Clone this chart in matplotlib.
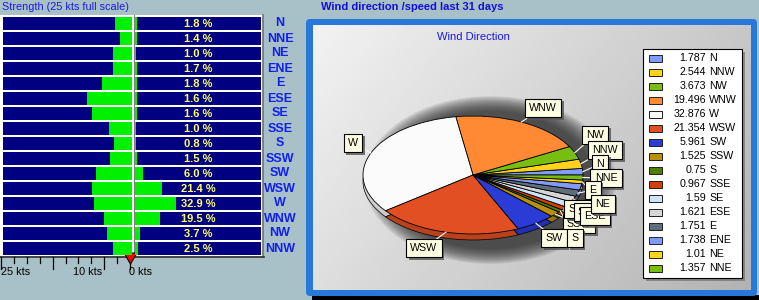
import numpy as np
import matplotlib
matplotlib.use("Agg")
import matplotlib.pyplot as plt
from matplotlib.patches import Rectangle, Polygon, Ellipse, FancyBboxPatch
import matplotlib.colors as mcolors

plt.rcParams['font.family'] = ['Liberation Sans', 'DejaVu Sans']

# ---------------- data ----------------
directions = ['N', 'NNE', 'NE', 'ENE', 'E', 'ESE', 'SE', 'SSE',
              'S', 'SSW', 'SW', 'WSW', 'W', 'WNW', 'NW', 'NNW']
frequency_pct = [1.787, 1.357, 1.01, 1.738, 1.751, 1.621, 1.59, 0.967,
                 0.75, 1.525, 5.961, 21.354, 32.876, 19.496, 3.673, 2.544]
mean_speed_kts = [2.9, 1.9, 3.3, 3.3, 5.4, 8.3, 7.4, 4.1,
                  3.1, 3.9, 6.6, 7.4, 7.0, 5.0, 4.5, 3.3]
full_scale_kts = 25
scale_labels = ['25 kts', '10 kts', '0 kts']

# pie / legend order (counter-clockwise from N)
pie_order = [directions[0]] + directions[1:][::-1]
pie_values = [frequency_pct[directions.index(d)] for d in pie_order]

# ---------------- style ----------------
slice_colors = {
    'N': '#7F9CFF', 'NNW': '#FFD21E', 'NW': '#77BE10', 'WNW': '#FF8A33',
    'W': '#FBFBFB', 'WSW': '#E24F22', 'SW': '#2A3BD6', 'SSW': '#B8900A',
    'S': '#4E7E00', 'SSE': '#D44000', 'SE': '#CFE3F8', 'ESE': '#D6D6D6',
    'E': '#5F6E78', 'ENE': '#809AFF', 'NE': '#FFD21E', 'NNE': '#77BE10'}
BG = '#A8C0C7'
NAVY = '#000080'
GREEN = '#00F000'
BLUE_TXT = '#1020F0'
FRAME = '#2878DA'

# label box centres (pixels) and drawing order
label_pos = {
    'W': (353, 143), 'WNW': (543, 108), 'NW': (595, 135), 'NNW': (605, 150),
    'N': (600, 164), 'NNE': (606, 178), 'E': (593, 190), 'SSW': (579, 224),
    'SSE': (579, 209), 'SE': (585, 212), 'ESE': (595, 216), 'NE': (603, 204),
    'SW': (554, 238), 'S': (575, 238), 'WSW': (424, 248)}
label_order = ['W', 'WNW', 'NW', 'NNW', 'N', 'NNE', 'E', 'SSW', 'SSE', 'SE',
               'ESE', 'NE', 'SW', 'S', 'WSW']

W, H = 759, 300
fig = plt.figure(figsize=(W / 100, H / 100), dpi=100, facecolor=BG)


def px_axes(x0, y0, x1, y1, z):
    ax = fig.add_axes([x0 / W, 1 - y1 / H, (x1 - x0) / W, (y1 - y0) / H])
    ax.set_zorder(z)
    ax.patch.set_visible(False)
    ax.set_axis_off()
    return ax


def rect(ax, x0, y0, x1, y1, **kw):
    ax.add_patch(Rectangle((x0, y0), x1 - x0, y1 - y0, **kw))


# background overlay (pixel coordinates)
ax_bg = px_axes(0, 0, W, H, 0)
ax_bg.set_xlim(0, W)
ax_bg.set_ylim(H, 0)

# left panel frame
rect(ax_bg, 0, 15, 263, 256, facecolor='white', edgecolor='none')
ax_bg.plot([133.5, 133.5], [15, 256], color='#808080', lw=0.8)
ax_bg.plot([263, 263], [15, 257], color='#707070', lw=1.2)
ax_bg.plot([0, 264], [256.5, 256.5], color='#303030', lw=1.2)
ax_bg.text(2, 7.5, 'Strength (25 kts full scale)', color='#1A1AE6',
           fontsize=7.8, va='center', ha='left')

# scale under the left bars
px_per_kt = 129 / full_scale_kts
for k in np.arange(0, full_scale_kts + 0.1, 2.5):
    x = 130 - k * px_per_kt
    major = k in (0, 5, 15, 25)
    ax_bg.plot([x, x], [257, 269 if major else 263], color='black', lw=0.9)
for lab, x in zip(scale_labels, [1, 73, 129]):
    ax_bg.text(x, 272, lab, fontsize=7.8, ha='left', va='center', color='black')
ax_bg.add_patch(Polygon([[124, 253], [137, 253], [130.5, 264]], closed=True,
                        facecolor='#FF0000', edgecolor='black', lw=0.8, zorder=5))

# right panel frame
ax_bg.text(321, 7.5, 'Wind direction /speed last 31 days', color='#1010D8',
           fontsize=8, fontweight='bold', va='center', ha='left')
rect(ax_bg, 312, 295, 759, 300, facecolor='black', edgecolor='none')
ax_bg.add_patch(FancyBboxPatch((306, 19), 451, 277,
                               boxstyle='round,pad=0,rounding_size=4',
                               facecolor=FRAME, edgecolor='none'))
gx = np.linspace(0, 1, 220)[None, :]
gy = np.linspace(0, 1, 120)[:, None]
grad = 0.95 - 0.17 * gx - 0.08 * gy
ax_bg.imshow(grad, cmap='gray', vmin=0, vmax=1, extent=(313, 751, 290, 25),
             aspect='auto', interpolation='bilinear', zorder=1)
ax_bg.text(473, 37.5, 'Wind Direction', color='#1818E8', fontsize=8,
           ha='center', va='center', zorder=3)

# soft shadow of the pie
for i in range(16):
    s = 1.0 - i * 0.012
    ax_bg.add_patch(Ellipse((490, 180), 252 * s, 168 * s, facecolor='#2a2a2a',
                            edgecolor='none', alpha=0.085, zorder=2))

# ---------------- left bars: speed ----------------
rows = np.arange(len(directions))
bar_h = 13 / 15
ax_l = px_axes(1, 16, 135, 256, 1)
ax_l.set_xlim(-full_scale_kts, 5 / px_per_kt)
ax_l.set_ylim(len(directions) - 0.5, -0.5)
right_end = 2 / px_per_kt
left_end = -127 / px_per_kt
ax_l.barh(rows, right_end - left_end, left=left_end, height=bar_h,
          color=NAVY, edgecolor='none')
spd = np.array(mean_speed_kts)
ax_l.barh(rows, spd + right_end, left=-spd, height=bar_h,
          color=GREEN, edgecolor='none')

# ---------------- right bars: frequency ----------------
ax_r = px_axes(135, 16, 261, 256, 1)
ax_r.set_xlim(0, 100)
ax_r.set_ylim(len(directions) - 0.5, -0.5)
ax_r.barh(rows, 100, height=bar_h, color=NAVY, edgecolor='none')
ax_r.barh(rows, frequency_pct, height=bar_h, color=GREEN, edgecolor='none')
for r, v in zip(rows, frequency_pct):
    ax_r.text(50, r + 0.05, f'{v:.1f} %', color='#FFFF66', fontsize=8,
              fontweight='bold', ha='center', va='center')

for r, d in zip(rows, directions):
    ax_bg.text(280, 23.5 + 15 * r, d, color=BLUE_TXT, fontsize=9,
               fontweight='bold', ha='center', va='center')

# ---------------- pie ----------------
ry_px = 59
depth = 6 / ry_px
ax_p = px_axes(363, 116, 583, 116 + 2 * ry_px + 6, 2)
cols = [slice_colors[d] for d in pie_order]
dark = [tuple(np.array(mcolors.to_rgb(c)) * 0.82) for c in cols]
ax_p.pie(pie_values, colors=dark, startangle=0, counterclock=True,
         center=(0, -depth), radius=1,
         wedgeprops=dict(edgecolor='black', linewidth=0.5))
wedges, _ = ax_p.pie(pie_values, colors=cols, startangle=0, counterclock=True,
                     center=(0, 0), radius=1,
                     wedgeprops=dict(edgecolor='black', linewidth=0.6))
ax_p.set_aspect('auto')
ax_p.set_xlim(-1, 1)
ax_p.set_ylim(-1 - depth, 1)
ax_p.set_axis_off()

# ---------------- overlay: labels + legend ----------------
ax_t = px_axes(0, 0, W, H, 3)
ax_t.set_xlim(0, W)
ax_t.set_ylim(H, 0)

fig.canvas.draw()
mid_angle = {}
for w, d in zip(wedges, pie_order):
    mid_angle[d] = np.deg2rad((w.theta1 + w.theta2) / 2)

for d in label_order:
    th = mid_angle[d]
    p = ax_p.transData.transform((np.cos(th), np.sin(th)))
    px, py = ax_t.transData.inverted().transform(p)
    lx, ly = label_pos[d]
    ax_t.plot([px, lx], [py, ly], color='white', lw=0.8, zorder=1)

inv = ax_t.transData.inverted()
for i, d in enumerate(label_order):
    lx, ly = label_pos[d]
    t = ax_t.text(lx, ly, d, fontsize=7.7, ha='center', va='center',
                  color='black', zorder=3 + 2 * i,
                  bbox=dict(boxstyle='square,pad=0.4', facecolor='#FFFFE4',
                            edgecolor='black', linewidth=0.8))
    fig.canvas.draw()
    ext = t.get_bbox_patch().get_window_extent()
    (x0, y1), (x1, y0) = inv.transform([[ext.x0, ext.y0], [ext.x1, ext.y1]])
    rect(ax_t, x0 + 2.5, y0 + 2.5, x1 + 2.5, y1 + 2.5, facecolor='#555555',
         edgecolor='none', alpha=0.8, zorder=2 + 2 * i)

# legend box
rect(ax_t, 646, 52, 745, 281, facecolor='#707070', edgecolor='none', alpha=0.7)
rect(ax_t, 643, 49, 742, 278, facecolor='white', edgecolor='black', lw=0.8)
for i, (d, v) in enumerate(zip(pie_order, pie_values)):
    y = 58 + 14 * i
    rect(ax_t, 649, y - 3.5, 662, y + 3.5, facecolor=slice_colors[d],
         edgecolor='#202020', lw=0.7)
    ax_t.text(706, y, f'{v:g}', fontsize=7.7, ha='right', va='center')
    ax_t.text(709, y, d, fontsize=7.7, ha='left', va='center')

fig.savefig('out.png', dpi=100, facecolor=BG)
